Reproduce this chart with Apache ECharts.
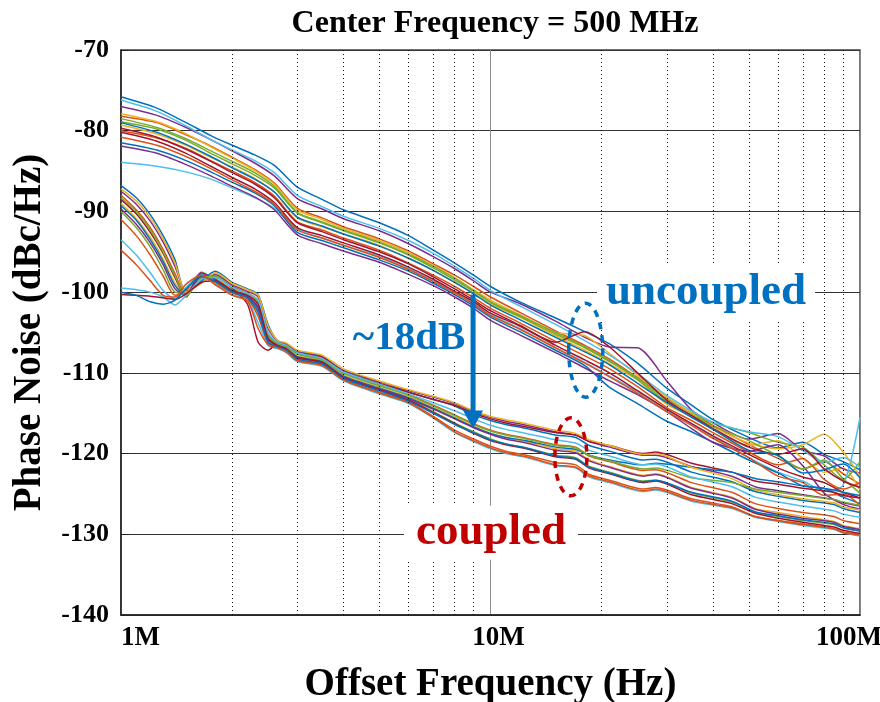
<!DOCTYPE html>
<html><head><meta charset="utf-8">
<script src="https://cdn.jsdelivr.net/npm/echarts@6/dist/echarts.min.js"></script>
<style>html,body{margin:0;padding:0;background:#fff}#c{width:880px;height:702px}</style>
</head><body><div id="c"></div>
<script>
const COLORS = ['#0072BD','#D95319','#EDB120','#7E2F8E','#77AC30','#4DBEEE','#A2142F'];
const X_TICK_LABELS = {1:'1M', 10:'10M', 100:'100M'};
const MINOR_X = [2,3,4,5,6,7,8,9,20,30,40,50,60,70,80,90];

// Uncoupled (MHz offsets)
const U_X = [1,1.25,1.5,1.75,2,2.3,2.6,3,3.5,4,5,6,7,8,9,10,12,15,18,21,25,30,35,40,50,60,70,80,90,100];
const U1 = [-75.8,-77.2,-79.0,-80.6,-81.8,-83.0,-84.3,-87.0,-88.5,-89.8,-91.4,-93.0,-94.8,-96.4,-97.9,-99.3,-101.2,-103.2,-104.9,-106.4,-108.8,-111.9,-114.0,-115.8,-118.0,-119.3,-118.6,-120.1,-121.0,-122.0];
const U2 = [-78.2,-79.0,-80.5,-81.9,-83.3,-84.8,-86.5,-89.6,-90.8,-91.9,-93.4,-94.9,-96.5,-97.9,-99.3,-100.6,-102.5,-104.8,-106.6,-108.3,-110.6,-113.2,-115.0,-116.5,-118.9,-120.6,-121.9,-121.0,-122.5,-123.8];
const U3 = [-79.3,-80.4,-81.8,-83.3,-84.5,-85.9,-87.6,-90.8,-91.9,-92.8,-94.2,-95.8,-97.3,-98.8,-100.2,-101.5,-103.1,-105.4,-107.2,-108.9,-110.9,-113.9,-115.4,-117.0,-119.0,-118.4,-120.6,-122.3,-121.8,-124.5];
const U4 = [-77.0,-78.1,-79.6,-81.1,-82.5,-84.0,-85.6,-88.4,-89.7,-90.9,-92.4,-94.0,-95.6,-97.1,-98.6,-100.0,-101.4,-103.6,-105.6,-106.8,-106.9,-111.0,-114.6,-116.2,-118.2,-117.5,-119.6,-120.3,-121.9,-122.4];
const U5 = [-78.9,-79.8,-81.2,-82.8,-84.1,-85.5,-87.1,-90.2,-91.4,-92.4,-93.9,-95.4,-97.0,-98.5,-99.9,-101.3,-103.0,-105.2,-106.9,-108.6,-110.6,-113.3,-114.9,-116.2,-117.4,-118.6,-119.2,-121.4,-123.2,-121.0];
const U6 = [-83.9,-84.4,-85.1,-86.0,-87.1,-88.3,-89.6,-92.2,-93.3,-94.2,-95.6,-97.1,-98.6,-100.0,-101.4,-102.8,-104.5,-106.9,-108.7,-110.4,-112.3,-114.6,-116.3,-117.9,-120.5,-122.3,-123.4,-124.6,-123.9,-115.5];
const U7 = [-80.2,-81.3,-82.8,-84.4,-85.8,-87.2,-88.9,-92.0,-93.0,-93.9,-95.4,-96.9,-98.4,-99.9,-101.2,-102.6,-104.2,-106.6,-108.4,-110.0,-112.2,-114.5,-116.3,-117.8,-120.1,-121.8,-122.9,-123.6,-124.8,-125.5];
const U8 = [-81.5,-82.4,-83.7,-85.1,-86.4,-87.7,-89.3,-92.6,-93.6,-94.5,-96.0,-97.4,-98.9,-100.3,-101.7,-103.1,-104.9,-107.2,-109.1,-111.8,-113.8,-116.0,-117.3,-118.6,-120.8,-122.4,-124.0,-124.3,-125.4,-126.2];
const U9 = [-80.0,-80.9,-82.2,-83.7,-85.0,-86.4,-88.1,-91.3,-92.3,-93.3,-94.8,-96.4,-97.9,-99.3,-100.7,-102.0,-103.8,-106.1,-107.9,-109.5,-111.7,-114.3,-115.9,-117.4,-119.8,-121.4,-120.6,-123.2,-124.4,-123.6];
const U10 = [-77.9,-78.9,-80.4,-82.0,-83.4,-84.9,-86.6,-89.8,-91.0,-92.1,-93.6,-95.1,-96.7,-98.2,-99.7,-101.0,-102.8,-105.0,-105.4,-107.6,-110.3,-113.0,-115.0,-116.7,-118.7,-119.4,-118.9,-117.6,-119.8,-122.8];
const U11 = [-81.9,-82.8,-84.2,-85.6,-86.9,-88.2,-89.8,-92.9,-94.0,-94.9,-96.3,-97.8,-99.2,-100.6,-102.0,-103.5,-105.3,-107.5,-109.4,-111.0,-112.7,-114.8,-116.9,-118.6,-119.7,-118.9,-121.5,-124.9,-126.3,-126.9];
const U12 = [-78.5,-79.6,-81.0,-82.5,-83.8,-85.2,-86.9,-90.1,-91.3,-92.3,-93.8,-95.3,-96.8,-98.3,-99.8,-101.2,-102.9,-105.0,-106.8,-108.5,-110.8,-113.6,-115.2,-116.6,-118.4,-120.3,-121.9,-120.8,-123.1,-124.9];
const U13 = [-76.2,-77.6,-79.4,-81.1,-82.4,-83.7,-85.2,-88.0,-89.4,-90.6,-92.1,-93.6,-95.2,-96.8,-98.3,-99.8,-101.7,-104.0,-106.0,-107.8,-110.1,-112.8,-114.7,-116.1,-117.3,-117.9,-119.6,-121.1,-120.5,-121.7];
const U14 = [-79.7,-80.8,-82.3,-83.8,-85.2,-86.6,-88.3,-91.4,-92.5,-93.5,-95.0,-96.5,-98.1,-99.6,-101.0,-102.3,-104.1,-106.2,-104.9,-106.8,-110.0,-113.4,-115.3,-116.9,-119.2,-120.1,-119.4,-121.9,-123.4,-124.2];
const U15 = [-79.0,-80.2,-81.7,-83.2,-84.6,-86.0,-87.6,-90.7,-91.8,-92.8,-94.3,-95.8,-97.3,-98.8,-100.2,-101.6,-103.4,-105.6,-107.4,-109.0,-111.3,-113.7,-115.5,-117.0,-119.6,-120.2,-122.4,-122.0,-121.3,-123.0];
const U16 = [-80.8,-81.8,-83.2,-84.7,-86.1,-87.5,-89.1,-92.3,-93.3,-94.2,-95.7,-97.2,-98.7,-100.1,-101.5,-102.9,-104.6,-106.9,-108.8,-110.5,-112.5,-114.8,-116.5,-118.1,-120.5,-122.8,-123.6,-125.2,-125.0,-126.4];
const UNCOUPLED = [U1,U2,U3,U4,U5,U6,U7,U8,U9,U10,U11,U12,U13,U14,U15,U16];

// Coupled
const C_X = [1,1.1,1.2,1.3,1.4,1.5,1.65,1.8,2,2.2,2.35,2.5,2.65,2.8,3,3.5,4,5,6,7,8,9,10,11,12.5,15,17,18.5,21,26,28,35,45,52,60,70,85,90,100];
const C1 = [-86.8,-88.3,-90.4,-93.0,-96.0,-100.2,-98.6,-97.4,-98.8,-99.6,-100.3,-104.0,-106.0,-106.4,-107.3,-108.0,-109.8,-111.3,-112.4,-113.3,-114.1,-115.2,-115.9,-116.4,-116.9,-117.7,-118.0,-119.0,-119.7,-120.8,-120.7,-122.3,-123.5,-124.7,-125.3,-125.8,-126.3,-126.8,-127.3];
const C2 = [-88.0,-89.8,-92.0,-94.7,-97.7,-100.4,-98.2,-98.0,-99.3,-100.1,-101.0,-105.2,-106.3,-106.7,-107.6,-108.3,-110.0,-111.5,-112.7,-114.0,-115.2,-116.3,-117.1,-117.6,-118.1,-118.9,-119.2,-120.3,-121.0,-122.1,-122.0,-123.6,-124.8,-126.2,-126.8,-127.3,-127.8,-128.3,-128.7];
const C3 = [-89.0,-90.9,-93.2,-95.9,-98.9,-100.5,-97.9,-98.3,-99.6,-100.3,-101.4,-105.6,-106.5,-106.9,-107.9,-108.5,-110.3,-111.8,-113.0,-114.3,-115.5,-116.6,-117.5,-118.0,-118.5,-119.4,-119.7,-120.8,-121.6,-122.7,-122.5,-124.2,-125.4,-126.8,-127.3,-127.8,-128.4,-128.9,-129.3];
const C4 = [-87.5,-89.1,-91.2,-93.8,-96.8,-99.9,-98.8,-97.8,-99.1,-99.9,-100.6,-104.5,-106.1,-106.5,-107.4,-108.0,-109.7,-111.1,-112.2,-113.0,-113.8,-114.8,-115.5,-116.0,-116.5,-117.3,-117.7,-118.5,-119.2,-120.2,-120.2,-121.6,-122.8,-124.1,-124.6,-125.1,-125.7,-126.1,-126.5];
const C5 = [-90.0,-92.0,-94.4,-97.2,-100.0,-100.1,-97.5,-98.6,-100.0,-100.6,-102.2,-106.0,-106.7,-107.1,-108.2,-108.8,-110.6,-112.1,-113.3,-114.8,-116.2,-117.3,-118.2,-118.8,-119.3,-120.2,-120.5,-121.6,-122.3,-123.4,-123.3,-124.9,-126.0,-127.3,-127.8,-128.3,-128.8,-129.2,-129.6];
const C6 = [-93.5,-95.4,-97.6,-99.8,-100.8,-99.4,-97.8,-99.0,-100.3,-101.0,-103.8,-106.6,-107.0,-107.5,-108.6,-109.2,-111.0,-112.6,-113.8,-115.6,-117.4,-118.5,-119.4,-120.0,-120.5,-121.5,-121.8,-122.9,-123.6,-124.7,-124.5,-125.9,-126.8,-127.9,-128.4,-128.9,-129.4,-129.8,-130.2];
const C7 = [-88.5,-90.3,-92.6,-95.2,-98.2,-100.6,-98.0,-98.1,-99.5,-101.5,-106.2,-107.2,-106.4,-106.6,-107.5,-108.1,-109.9,-111.3,-112.4,-113.3,-114.0,-115.0,-115.7,-116.2,-116.7,-117.4,-117.7,-118.5,-119.0,-120.0,-119.8,-121.2,-122.3,-123.4,-123.8,-124.3,-124.8,-125.2,-125.5];
const C8 = [-89.3,-91.1,-93.5,-96.2,-99.2,-100.4,-97.7,-98.4,-99.8,-100.5,-101.8,-105.8,-106.6,-107.0,-108.0,-108.6,-110.4,-111.9,-113.1,-114.4,-115.6,-116.7,-117.5,-118.0,-118.4,-119.2,-119.5,-120.2,-120.8,-121.4,-121.2,-121.7,-122.3,-123.1,-123.5,-124.0,-124.5,-124.8,-125.2];
const C9 = [-91.0,-93.0,-95.4,-98.0,-100.4,-99.8,-97.6,-98.8,-100.1,-100.8,-103.0,-106.3,-106.8,-107.2,-108.4,-109.0,-110.8,-112.4,-113.6,-115.4,-117.1,-118.2,-119.1,-119.7,-120.2,-121.1,-121.4,-122.6,-123.3,-124.4,-124.2,-125.6,-126.6,-127.8,-128.3,-128.7,-129.3,-129.7,-130.0];
const C10 = [-87.2,-88.7,-90.8,-93.4,-96.4,-100.0,-98.9,-97.6,-98.9,-99.7,-100.4,-104.2,-106.0,-106.3,-107.2,-107.8,-109.5,-111.0,-112.1,-112.9,-113.7,-114.7,-115.4,-115.8,-116.3,-117.1,-117.5,-118.3,-119.0,-120.1,-120.0,-121.7,-123.1,-124.5,-125.1,-125.6,-126.1,-126.6,-127.0];
const C11 = [-89.7,-91.6,-93.9,-96.6,-99.6,-100.3,-97.6,-98.5,-99.9,-100.6,-102.0,-105.9,-106.6,-107.0,-108.1,-108.7,-110.5,-112.0,-113.2,-114.5,-115.7,-116.8,-117.6,-118.2,-118.7,-119.6,-119.9,-120.9,-121.7,-122.8,-122.6,-124.3,-125.5,-126.9,-127.5,-128.0,-128.5,-129.0,-129.4];
const C12 = [-88.3,-90.0,-92.3,-95.0,-98.0,-100.5,-98.3,-98.0,-99.4,-100.2,-101.2,-105.4,-106.4,-106.8,-107.7,-108.4,-110.1,-111.6,-112.8,-114.1,-115.3,-116.4,-117.2,-117.7,-118.2,-119.0,-119.3,-120.2,-120.9,-121.9,-121.8,-123.0,-123.6,-124.4,-124.8,-125.2,-125.7,-126.0,-126.4];
const C13 = [-99.5,-99.7,-100.0,-100.6,-101.6,-100.4,-98.4,-98.2,-99.4,-100.2,-101.0,-105.0,-106.2,-106.6,-107.5,-108.2,-109.9,-111.4,-112.6,-113.7,-114.7,-115.7,-116.5,-117.0,-117.5,-118.3,-118.7,-119.6,-120.3,-121.4,-121.3,-122.9,-124.1,-125.4,-126.0,-126.5,-127.1,-127.5,-127.9];
const C14 = [-100.3,-100.4,-100.5,-100.7,-100.9,-100.2,-98.8,-98.6,-99.8,-100.4,-101.5,-105.7,-106.6,-107.0,-108.1,-108.7,-110.6,-112.1,-113.4,-114.9,-116.3,-117.5,-118.4,-118.9,-119.4,-120.4,-120.7,-121.8,-122.5,-123.6,-123.4,-125.1,-126.2,-127.4,-128.0,-128.5,-129.1,-129.5,-129.9];
const C15 = [-100.0,-100.4,-101.2,-101.5,-101.0,-99.6,-98.1,-98.7,-100.0,-100.7,-102.5,-106.2,-106.8,-107.2,-108.3,-108.9,-110.7,-112.2,-113.5,-115.0,-116.4,-117.4,-118.3,-118.8,-119.3,-120.3,-120.6,-121.7,-122.4,-123.5,-123.3,-124.8,-125.9,-127.2,-127.7,-128.2,-128.7,-129.2,-129.6];
const C16 = [-94.8,-96.6,-98.6,-100.4,-100.6,-99.0,-97.9,-99.1,-100.4,-101.1,-104.5,-106.5,-106.9,-107.4,-108.5,-109.1,-110.9,-112.5,-113.7,-115.5,-117.3,-118.4,-119.3,-119.9,-120.4,-121.4,-121.7,-122.8,-123.5,-124.6,-124.4,-125.8,-126.7,-127.8,-128.3,-128.8,-129.3,-129.8,-130.1];
const COUPLED = [C1,C2,C3,C4,C5,C6,C7,C8,C9,C10,C11,C12,C13,C14,C15,C16];

const FONT = "'Liberation Serif','Times New Roman',serif";
const chart = echarts.init(document.getElementById('c'));

function mk(xs, vals, i, name) {
  const d = [];
  for (let j = 0; j < vals.length && j < xs.length; j++) d.push([xs[j], vals[j]]);
  return {type:'line', name, data:d, symbol:'none', smooth:0.25, silent:true, z:2,
    lineStyle:{width:1.5, color:COLORS[i % 7]}, emphasis:{disabled:true}};
}
const series = [{
  type:'line', data:[], silent:true, z:1,
  markLine:{silent:true, symbol:['none','none'], label:{show:false}, animation:false,
    emphasis:{disabled:true},
    lineStyle:{type:[1,3], color:'#111', width:1},
    data: MINOR_X.map(v => ({xAxis:v}))}
}];
UNCOUPLED.forEach((v,i) => series.push(mk(U_X, v, i, 'U'+(i+1))));
COUPLED.forEach((v,i) => series.push(mk(C_X, v, i, 'C'+(i+1))));

const option = {
  animation:false,
  backgroundColor:'#fff',
  title:{text:'Center Frequency = 500 MHz', left:490, top:3, textAlign:'center',
    textStyle:{fontFamily:FONT, fontWeight:'bold', fontSize:32, color:'#000'}},
  grid:{left:121, right:20, top:50, bottom:87, outerBoundsMode:'none', containLabel:false,
    show:true, borderColor:'#444', borderWidth:1.5, backgroundColor:'transparent'},
  xAxis:{type:'log', logBase:10, min:1, max:100,
    axisLine:{show:true, lineStyle:{color:'#222', width:1.5}},
    axisTick:{show:false},
    splitLine:{show:true, lineStyle:{color:'#8a8a8a', width:1}},
    axisLabel:{margin:10, fontFamily:FONT, fontWeight:'bold', fontSize:27, color:'#000',
      alignMinLabel:'left', alignMaxLabel:'right',
      formatter: v => { const k = Math.round(v); const t = X_TICK_LABELS[k] || '';
        if (k === 100) return '{r|' + t + '}'; if (k === 10) return '{c|' + t + '}'; return '{l|' + t + '}'; },
      rich:{
        l:{fontFamily:FONT, fontWeight:'bold', fontSize:27, color:'#000'},
        c:{fontFamily:FONT, fontWeight:'bold', fontSize:27, color:'#000', padding:[0,0,0,16]},
        r:{fontFamily:FONT, fontWeight:'bold', fontSize:27, color:'#000', width:44, align:'left'}
      }},
    name:'Offset Frequency (Hz)', nameLocation:'middle', nameGap:50,
    nameTextStyle:{fontFamily:FONT, fontWeight:'bold', fontSize:39, color:'#000'}
  },
  yAxis:{type:'value', min:-140, max:-70, interval:10,
    axisLine:{show:true, lineStyle:{color:'#222', width:1.5}},
    axisTick:{show:true, inside:true, length:8, lineStyle:{color:'#222'}},
    splitLine:{show:true, lineStyle:{color:'#333', width:1}},
    axisLabel:{margin:12, fontFamily:FONT, fontWeight:'bold', fontSize:26, color:'#000'},
    name:'Phase Noise (dBc/Hz)', nameLocation:'middle', nameGap:72,
    nameTextStyle:{fontFamily:FONT, fontWeight:'bold', fontSize:39, color:'#000'}
  },
  series
};
chart.setOption(option);

function px(x, y) { return chart.convertToPixel({gridIndex:0}, [x, y]); }
const BLUE = '#0070C0', RED = '#C00000';
const g = [];
function label(text, x, y, w, h, color, size) {
  const p = px(x, y);
  g.push({type:'rect', z:50, silent:true, shape:{x:p[0]-w/2, y:p[1]-h/2, width:w, height:h}, style:{fill:'#fff'}});
  g.push({type:'text', z:51, silent:true, x:p[0], y:p[1], style:{text, fill:color,
    font:'bold ' + size + 'px ' + FONT, textAlign:'center', textVerticalAlign:'middle'}});
}
label('uncoupled', 38.3, -100.0, 218, 58, BLUE, 45);
label('coupled', 10.03, -129.8, 174, 54, RED, 45);
label('~18dB', 6.02, -105.7, 120, 44, BLUE, 41);
// arrow
const a0 = px(8.97, -100.3), a1 = px(8.97, -116.9);
g.push({type:'line', z:52, silent:true, shape:{x1:a0[0], y1:a0[1], x2:a1[0], y2:a1[1]-16}, style:{stroke:BLUE, lineWidth:5}});
g.push({type:'polygon', z:52, silent:true, shape:{points:[[a1[0]-10, a1[1]-18],[a1[0]+10, a1[1]-18],[a1[0], a1[1]]]}, style:{fill:BLUE}});
// ellipses
const e1 = px(18.1, -107.2), e2 = px(16.5, -120.4);
g.push({type:'ellipse', z:53, silent:true, shape:{cx:e1[0], cy:e1[1], rx:17, ry:47}, style:{fill:'none', stroke:BLUE, lineWidth:3.5, lineDash:[7,6]}});
g.push({type:'ellipse', z:53, silent:true, shape:{cx:e2[0], cy:e2[1], rx:16, ry:39}, style:{fill:'none', stroke:RED, lineWidth:3.5, lineDash:[7,6]}});
chart.setOption({graphic:g});
</script></body></html>
